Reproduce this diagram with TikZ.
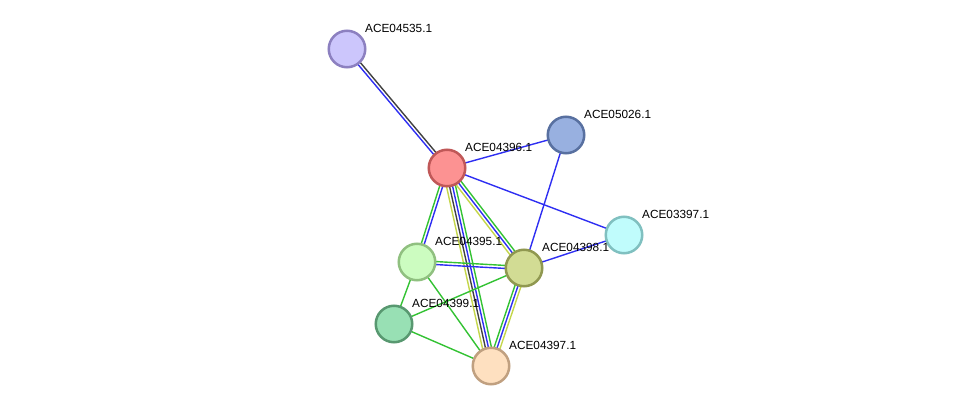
\documentclass[tikz,border=0pt]{standalone}
\usepackage{fontspec}
\setmainfont{Liberation Sans}
\usetikzlibrary{calc,backgrounds}
\definecolor{eblue}{HTML}{2E2EF2}
\definecolor{egreen}{HTML}{33C233}
\definecolor{eyellow}{HTML}{C4D64A}
\definecolor{eblack}{HTML}{404040}
\tikzset{
  prot/.style={circle,minimum size=36.5pt,inner sep=0pt,line width=2.5pt},
  lab/.style={anchor=west,inner sep=0pt,font=\fontsize{11.8}{13}\selectfont,text=black},
  ln/.style={line width=1.4pt},
}
\newcommand{\pedge}[4]{\draw[ln,#4] ($(#1.center)!#3!90:(#2.center)$) -- ($(#2.center)!#3!-90:(#1.center)$);}
\begin{document}
\begin{tikzpicture}[x=1pt,y=-1pt]
\useasboundingbox (0,0) rectangle (975,412);
\node[prot,fill={rgb,255:red,204;green,198;blue,252},draw={rgb,255:red,140;green,128;blue,192}] (n35) at (347,49) {};
\node[prot,fill={rgb,255:red,252;green,146;blue,146},draw={rgb,255:red,192;green,88;blue,88}] (n96) at (447,168) {};
\node[prot,fill={rgb,255:red,152;green,176;blue,224},draw={rgb,255:red,88;green,112;blue,160}] (n26) at (566,135) {};
\node[prot,fill={rgb,255:red,192;green,252;blue,252},draw={rgb,255:red,128;green,192;blue,192}] (n97b) at (624,235) {};
\node[prot,fill={rgb,255:red,204;green,252;blue,192},draw={rgb,255:red,144;green,192;blue,128}] (n95) at (417,262) {};
\node[prot,fill={rgb,255:red,210;green,220;blue,148},draw={rgb,255:red,144;green,152;blue,80}] (n98) at (524,268) {};
\node[prot,fill={rgb,255:red,152;green,224;blue,180},draw={rgb,255:red,88;green,152;blue,112}] (n99) at (394,324) {};
\node[prot,fill={rgb,255:red,254;green,224;blue,192},draw={rgb,255:red,192;green,160;blue,128}] (n97) at (491,366) {};
\begin{scope}[on background layer]
\pedge{n35}{n96}{1.5pt}{eblack}
\pedge{n35}{n96}{-1.5pt}{eblue}
\pedge{n96}{n26}{0pt}{eblue}
\pedge{n96}{n97b}{0pt}{eblue}
\pedge{n26}{n98}{0pt}{eblue}
\pedge{n98}{n97b}{0pt}{eblue}
\pedge{n96}{n95}{-1.5pt}{egreen}
\pedge{n96}{n95}{1.5pt}{eblue}
\pedge{n96}{n97}{-4.5pt}{eyellow}
\pedge{n96}{n97}{-1.5pt}{eblack}
\pedge{n96}{n97}{1.5pt}{eblue}
\pedge{n96}{n97}{4.5pt}{egreen}
\pedge{n96}{n98}{-3pt}{eyellow}
\pedge{n96}{n98}{0pt}{eblue}
\pedge{n96}{n98}{3pt}{egreen}
\pedge{n95}{n98}{1.5pt}{egreen}
\pedge{n95}{n98}{-1.5pt}{eblue}
\pedge{n98}{n97}{-3pt}{egreen}
\pedge{n98}{n97}{0pt}{eblue}
\pedge{n98}{n97}{3pt}{eyellow}
\pedge{n95}{n99}{0pt}{egreen}
\pedge{n95}{n97}{0pt}{egreen}
\pedge{n99}{n98}{0pt}{egreen}
\pedge{n99}{n97}{0pt}{egreen}
\end{scope}
\node[lab] (l35) at (365,28) {ACE04535.1};
\node[lab] (l96) at (465,147) {ACE04396.1};
\node[lab] (l26) at (584,114) {ACE05026.1};
\node[lab] (l97b) at (642,214) {ACE03397.1};
\node[lab] (l95) at (435,241) {ACE04395.1};
\node[lab] (l98) at (542,247) {ACE04398.1};
\node[lab] (l99) at (412,303) {ACE04399.1};
\node[lab] (l97) at (509,345) {ACE04397.1};
\end{tikzpicture}
\end{document}
